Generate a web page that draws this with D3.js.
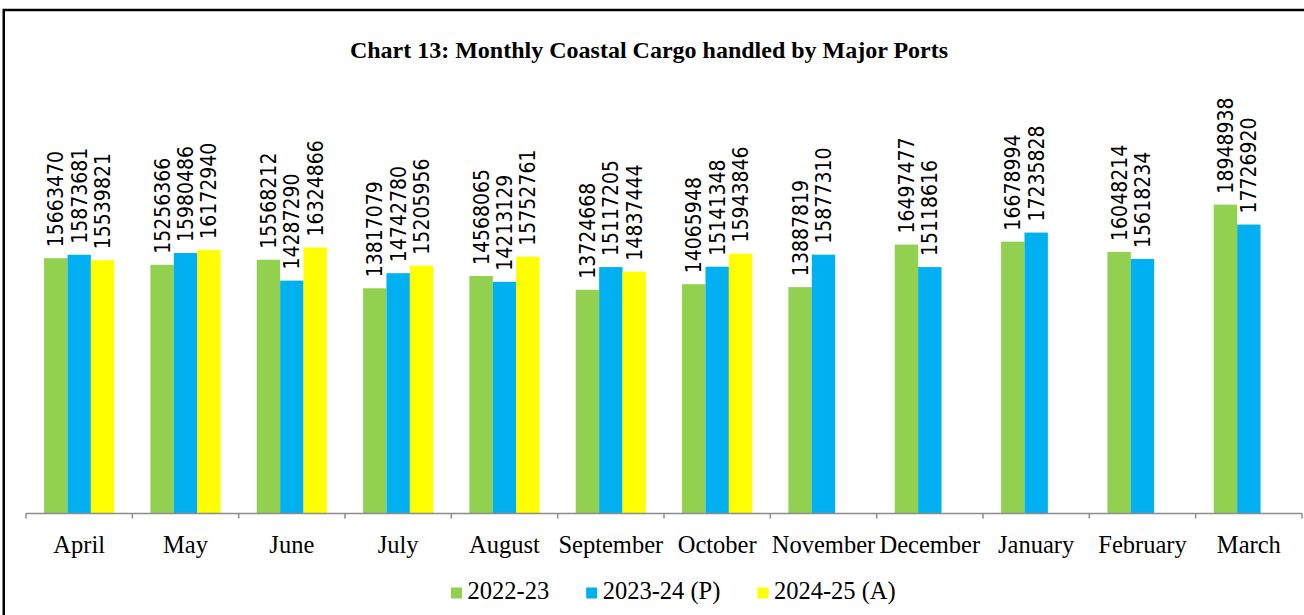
<!DOCTYPE html>
<html><head><meta charset="utf-8">
<script src="https://cdn.jsdelivr.net/npm/d3@7"></script>
<style>html,body{margin:0;padding:0;background:#fff;overflow:hidden}</style>
</head><body>
<svg id="chart" width="1304" height="615"></svg>
<script>
const months = ["April","May","June","July","August","September","October","November","December","January","February","March"];
const seriesNames = ["2022-23","2023-24 (P)","2024-25 (A)"];
const seriesColors = ["#92D050","#00B0F0","#FFFF00"];
const s2022 = [15663470,15256366,15568212,13817079,14568065,13724668,14065948,13887819,16497477,16678994,16048214,18948938];
const s2023 = [15873681,15980486,14287290,14742780,14213129,15117205,15141348,15877310,15118616,17235828,15618234,17726920];
const s2024 = [15539821,16172940,16324866,15205956,15752761,14837444,15943846,null,null,null,null,null];
const yDomain = [0, 20000000];
const title = "Chart 13: Monthly Coastal Cargo handled by Major Ports";

const series = [s2022, s2023, s2024];
const svg = d3.select("#chart");

// frame
svg.append("rect").attr("x",3.75).attr("y",10).attr("width",1320).attr("height",640)
  .attr("fill","none").attr("stroke","#000").attr("stroke-width",2.5);

svg.append("text").attr("x",649).attr("y",58).attr("text-anchor","middle")
  .attr("font-family","Liberation Serif, Times New Roman, serif").attr("font-weight","bold")
  .attr("font-size",24).attr("fill","#000").text(title);

const left = 26, right = 1302, base = 513.5;
const pin = 0.34, pout = 0.17;
const x = d3.scaleBand().domain(months).range([left,right]).paddingInner(pin).paddingOuter(pout);
const x1 = d3.scaleBand().domain(seriesNames).range([0, x.bandwidth()]);
const y = d3.scaleLinear().domain(yDomain).range([base, base - 326]);

const rows = [];
months.forEach((m,i)=>series.forEach((s,j)=>{ if (s[i]!=null) rows.push({m, k:seriesNames[j], v:s[i], c:seriesColors[j]}); }));

svg.append("g").selectAll("rect").data(rows).join("rect")
  .attr("x", d=>x(d.m)+x1(d.k)).attr("width", x1.bandwidth())
  .attr("y", d=>y(d.v)).attr("height", d=>base - y(d.v))
  .attr("fill", d=>d.c);

svg.append("g").selectAll("text").data(rows).join("text")
  .attr("transform", d=>`translate(${x(d.m)+x1(d.k)+x1.bandwidth()/2},${y(d.v)-11}) rotate(-90)`)
  .attr("dy","0.36em")
  .attr("font-family","DejaVu Sans Condensed, DejaVu Sans, sans-serif")
  .attr("font-size",21).attr("fill","#000")
  .text(d=>d.v);

// axis
const axisG = svg.append("g").attr("transform",`translate(0,${base})`);
const axis = d3.axisBottom(x).tickSize(0).tickPadding(0).tickFormat("");
axisG.call(axis);
axisG.select(".domain").attr("d",`M${left},0H${right}`).attr("stroke","#8c8c8c").attr("stroke-width",1.5);
const bounds = months.map(m=>x(m) - x.step()*pin/2).concat([right]);
bounds[0] = left;
axisG.selectAll("line.tk").data(bounds).join("line").attr("class","tk")
  .attr("x1",d=>d).attr("x2",d=>d).attr("y1",0).attr("y2",5)
  .attr("stroke","#8c8c8c").attr("stroke-width",1.5);
axisG.selectAll("text.cat").data(months).join("text").attr("class","cat")
  .attr("x", m=>x(m)+x.bandwidth()/2).attr("y", 39.5).attr("text-anchor","middle")
  .attr("font-family","Liberation Serif, Times New Roman, serif").attr("font-size",24.5).attr("fill","#000")
  .text(m=>m);

// legend
const lg = svg.append("g");
let lx = 451;
seriesNames.forEach((n,i)=>{
  lg.append("rect").attr("x",lx).attr("y",587.5).attr("width",11).attr("height",11).attr("fill",seriesColors[i]);
  const t = lg.append("text").attr("x",lx+16.5).attr("y",598.5)
    .attr("font-family","Liberation Serif, Times New Roman, serif").attr("font-size",24.5).attr("fill","#000").text(n);
  lx += 16.5 + t.node().getComputedTextLength() + 37;
});
</script>
</body></html>
